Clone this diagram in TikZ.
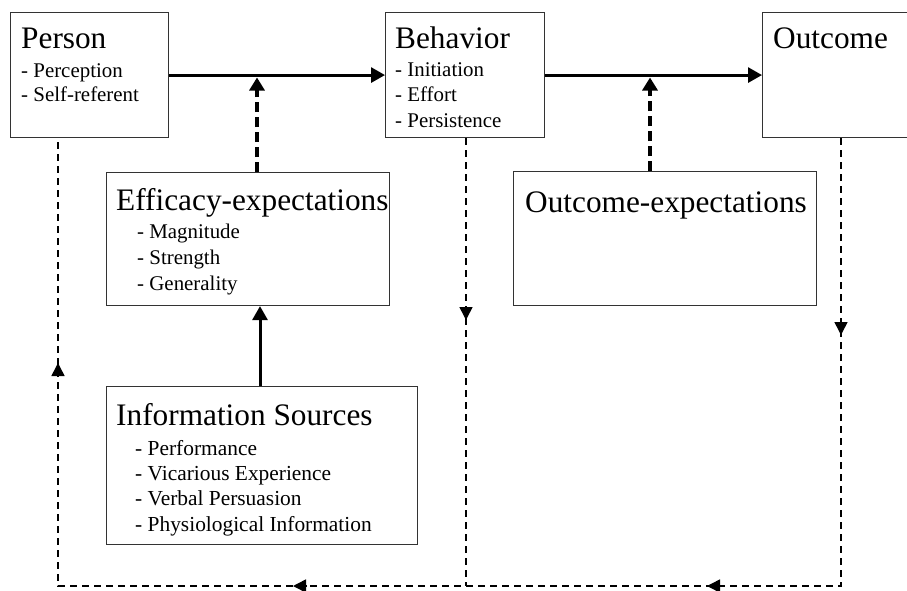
\documentclass[tikz,border=0pt]{standalone}
\usepackage{fontspec}
\setmainfont{Liberation Serif}
\usetikzlibrary{arrows.meta,calc}
\begin{document}
\begin{tikzpicture}[x=1pt,y=-1pt,
 box/.style={draw=black!80, line width=1.1pt, inner sep=0pt, anchor=north west},
 ttl/.style={anchor=base west, inner sep=0pt, font=\fontsize{31.3}{31.3}\selectfont},
 itm/.style={anchor=base west, inner sep=0pt, font=\fontsize{20.9}{24}\selectfont},
 itmb/.style={anchor=base west, inner sep=0pt, font=\fontsize{21.4}{24}\selectfont},
 mainarrow/.style={line width=3pt, -{Triangle[length=14pt,width=15pt]}},
 thickdash/.style={line width=3.5pt, dash pattern=on 10pt off 5pt, -{Triangle[length=13pt,width=15pt]}},
 thindash/.style={line width=1.6pt, dash pattern=on 7pt off 5pt},
 tipseg/.style={line width=1.6pt, -{Triangle[length=13pt,width=13pt]}}
]
\clip (0,0) rectangle (907,590);
\fill[white] (0,0) rectangle (907,590);

% boxes
\node[box, minimum width=158pt, minimum height=125pt] (person) at (10,12) {};
\node[box, minimum width=159pt, minimum height=125pt] (behavior) at (385,12) {};
\node[box, minimum width=160pt, minimum height=125pt] (outcome) at (762,12) {};
\node[box, minimum width=283pt, minimum height=133pt] (efficacy) at (106,172) {};
\node[box, minimum width=303pt, minimum height=134pt] (outexp) at (513,171) {};
\node[box, minimum width=311pt, minimum height=158pt] (info) at (106,386) {};

% texts
\node[ttl] (tperson) at (21,48) {Person};
\node[itm] (p1) at (21,77) {- Perception};
\node[itm] (p2) at (21,101) {- Self-referent};

\node[ttl] (tbehavior) at (395,48) {Behavior};
\node[itm] (b1) at (395,76) {- Initiation};
\node[itm] (b2) at (395,101.5) {- Effort};
\node[itm] (b3) at (395,127) {- Persistence};

\node[ttl] (toutcome) at (773,48) {Outcome};

\node[ttl] (tefficacy) at (116,210) {Efficacy-expectations};
\node[itm] (e1) at (137,238) {- Magnitude};
\node[itm] (e2) at (137,264) {- Strength};
\node[itm] (e3) at (137,290) {- Generality};

\node[ttl] (toutexp) at (525,212) {Outcome-expectations};

\node[ttl] (tinfo) at (116,425) {Information Sources};
\node[itmb] (i1) at (135,455) {- Performance};
\node[itmb] (i2) at (135,480) {- Vicarious Experience};
\node[itmb] (i3) at (135,505.5) {- Verbal Persuasion};
\node[itmb] (i4) at (135,531) {- Physiological Information};

% main arrows
\draw[mainarrow] (person.east) -- (behavior.west);
\draw[mainarrow] (behavior.east) -- (outcome.west);

% thick dashed arrows
\coordinate (j1) at (257,77.5);
\coordinate (j2) at (650,77.5);
\draw[thickdash] (efficacy.north -| j1) -- (j1);
\draw[thickdash] (outexp.north -| j2) -- (j2);

% info -> efficacy
\coordinate (ie) at (260,0);
\draw[mainarrow] (info.north -| ie) -- (efficacy.south -| ie);

% feedback loop
\coordinate (bl) at (58,586);
\coordinate (bm) at (466,586);
\coordinate (br) at (841,586);
\draw[thindash] (outcome.south -| br) -- (br) -- (bl) -- (person.south -| bl);
\draw[thindash] (behavior.south -| bm) -- (bm);

% arrow heads on loop
\coordinate (ta) at (841,335);
\coordinate (tb) at (466,320);
\coordinate (tc) at (58,363);
\coordinate (td) at (707,586);
\coordinate (te) at (293,586);
\draw[tipseg] ($(ta)+(0,-14)$) -- (ta);
\draw[tipseg] ($(tb)+(0,-14)$) -- (tb);
\draw[tipseg] ($(tc)+(0,14)$) -- (tc);
\draw[tipseg] ($(td)+(14,0)$) -- (td);
\draw[tipseg] ($(te)+(14,0)$) -- (te);
\end{tikzpicture}
\end{document}
